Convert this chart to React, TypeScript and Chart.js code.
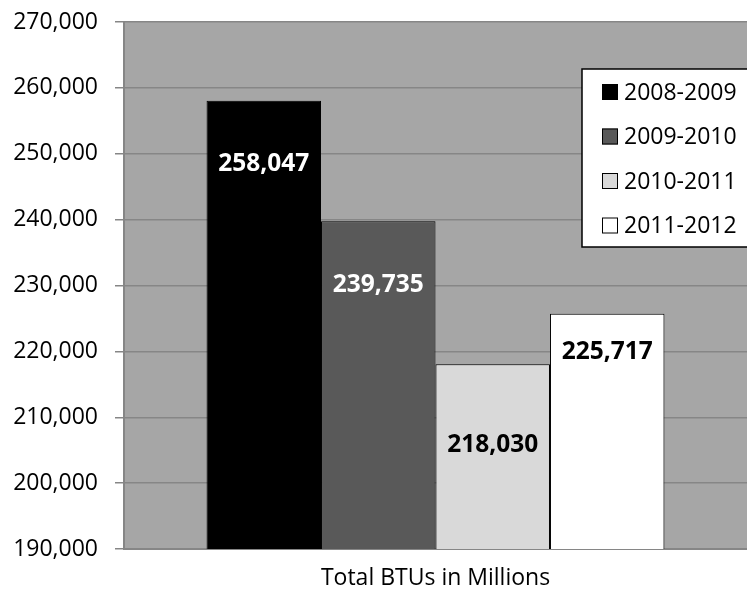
import React, { useEffect, useRef } from "react";
import { Chart, registerables } from "chart.js";

Chart.register(...registerables);

const categories = ["Total BTUs in Millions"];
const seriesLabels = ["2008-2009", "2009-2010", "2010-2011", "2011-2012"];
const seriesValues = [[258047], [239735], [218030], [225717]];
const seriesColors = ["#000000", "#595959", "#D9D9D9", "#FFFFFF"];
const labelColors = ["#FFFFFF", "#FFFFFF", "#000000", "#000000"];
const yMin = 190000;
const yMax = 270000;
const yStep = 10000;

const FONT = "'Open Sans', 'DejaVu Sans', sans-serif";
const labelOffsets = [63, 64, 81, 38];

const bgPlugin = {
  id: "plotBg",
  beforeDraw(chart: any) {
    const { ctx, chartArea } = chart;
    ctx.save();
    ctx.fillStyle = "#A6A6A6";
    ctx.fillRect(chartArea.left, chartArea.top, chartArea.right - chartArea.left, chartArea.bottom - chartArea.top);
    ctx.restore();
  },
};

const valueLabelPlugin = {
  id: "valueLabels",
  afterDatasetsDraw(chart: any) {
    const { ctx } = chart;
    ctx.save();
    ctx.font = `bold 24.5px ${FONT}`;
    ctx.textAlign = "center";
    ctx.textBaseline = "middle";
    chart.data.datasets.forEach((ds: any, i: number) => {
      const meta = chart.getDatasetMeta(i);
      meta.data.forEach((bar: any, j: number) => {
        const v = ds.data[j];
        ctx.fillStyle = labelColors[i];
        ctx.fillText(v.toLocaleString("en-US"), bar.x, bar.y + labelOffsets[i]);
      });
    });
    ctx.restore();
  },
};

const legendPlugin = {
  id: "boxLegend",
  afterDraw(chart: any) {
    const { ctx, chartArea } = chart;
    const left = chartArea.right - 165;
    const top = chartArea.top + 47;
    const w = 170;
    const h = 178;
    ctx.save();
    ctx.fillStyle = "#FFFFFF";
    ctx.fillRect(left, top, w, h);
    ctx.strokeStyle = "#000000";
    ctx.lineWidth = 1.5;
    ctx.strokeRect(left, top, w, h);
    ctx.font = `23px ${FONT}`;
    ctx.textBaseline = "middle";
    ctx.textAlign = "left";
    chart.data.datasets.forEach((ds: any, i: number) => {
      const cy = top + 23 + i * 44.5;
      ctx.fillStyle = ds.backgroundColor;
      ctx.fillRect(left + 20, cy - 8, 16, 16);
      ctx.lineWidth = 1;
      ctx.strokeStyle = "#000000";
      ctx.strokeRect(left + 20.5, cy - 7.5, 15, 15);
      ctx.fillStyle = "#000000";
      ctx.fillText(ds.label, left + 42, cy + 1);
    });
    ctx.restore();
  },
};

export default function App() {
  const ref = useRef<HTMLCanvasElement>(null);
  useEffect(() => {
    if (!ref.current) return;
    const chart = new Chart(ref.current, {
      type: "bar",
      data: {
        labels: categories,
        datasets: seriesLabels.map((label, i) => ({
          label,
          data: seriesValues[i],
          backgroundColor: seriesColors[i],
          borderColor: "#000000",
          borderWidth: 1,
          categoryPercentage: 0.735,
          barPercentage: 1,
        })),
      },
      options: {
        animation: false,
        responsive: true,
        maintainAspectRatio: false,
        layout: { padding: { top: 22, right: 0, bottom: 0, left: 0 } },
        plugins: {
          legend: { display: false },
          tooltip: { enabled: false },
        },
        scales: {
          x: {
            grid: { display: false, drawTicks: false },
            border: { display: true, color: "#868686", width: 2 },
            ticks: { color: "#000000", font: { family: FONT, size: 23 }, padding: 16 },
            afterFit(scale: any) {
              scale.height = 45;
              scale.paddingLeft = 0;
              scale.paddingRight = 0;
            },
          },
          y: {
            min: yMin,
            max: yMax,
            grid: { color: "#868686", lineWidth: 1.5, tickLength: 9 },
            border: { display: true, color: "#868686", width: 2 },
            ticks: {
              stepSize: yStep,
              color: "#000000",
              padding: 17,
              font: { family: FONT, size: 23 },
              callback: (v: any) => Number(v).toLocaleString("en-US"),
            },
            afterFit(scale: any) {
              scale.width = 124;
              scale.paddingTop = 0;
              scale.paddingBottom = 0;
            },
          },
        },
      },
      plugins: [bgPlugin, valueLabelPlugin, legendPlugin],
    });
    return () => chart.destroy();
  }, []);
  return (
    <div style={{ position: "fixed", left: 0, top: 0, width: 747, height: 594, background: "#FFFFFF" }}>
      <canvas ref={ref} />
    </div>
  );
}
